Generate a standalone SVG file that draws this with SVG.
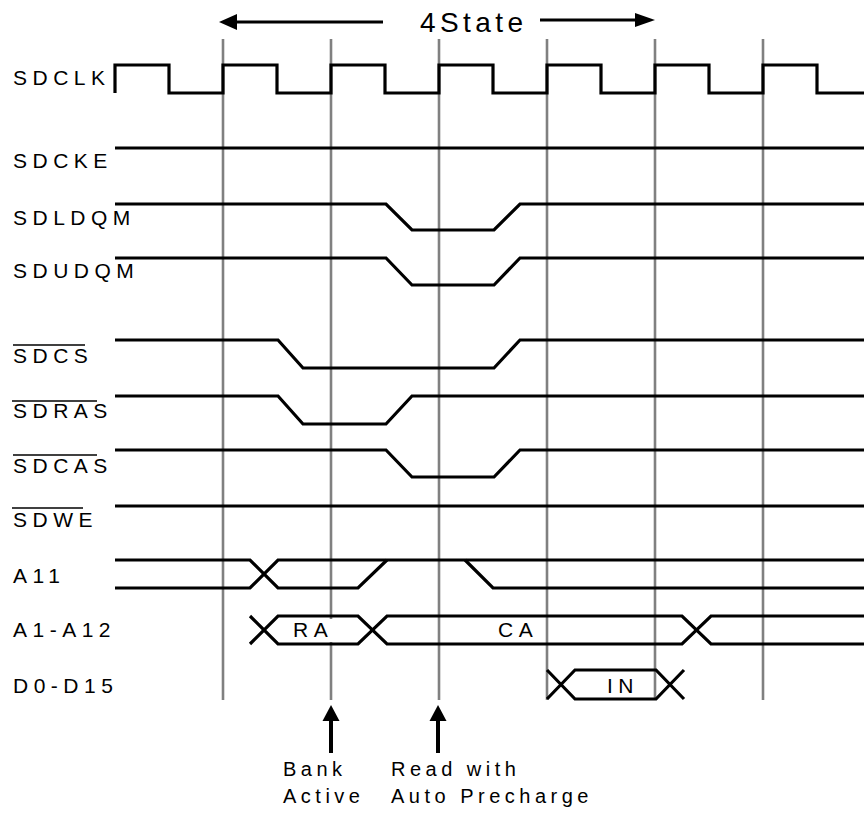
<svg xmlns="http://www.w3.org/2000/svg" width="864" height="814" viewBox="0 0 864 814">
<style>
.grid{stroke:#808080;stroke-width:2.6;fill:none}
.sig{stroke:#000;stroke-width:3.2;fill:none;stroke-linejoin:miter}
.lbl{font-family:"Liberation Sans",Arial,sans-serif;font-size:21px;letter-spacing:5.5px;fill:#000}
.note{font-family:"Liberation Sans",Arial,sans-serif;font-size:20px;letter-spacing:4.5px;fill:#000}
.ob{stroke:#000;stroke-width:1.6}
</style>
<rect width="864" height="814" fill="#fff"/>
<g id="gridlines">
<line class="grid" x1="223" y1="39" x2="223" y2="700"/>
<line class="grid" x1="331" y1="39" x2="331" y2="700"/>
<line class="grid" x1="439" y1="39" x2="439" y2="700"/>
<line class="grid" x1="547" y1="39" x2="547" y2="700"/>
<line class="grid" x1="655" y1="39" x2="655" y2="700"/>
<line class="grid" x1="763" y1="39" x2="763" y2="700"/>
</g>
<g id="span4state">
<line x1="236" y1="22" x2="383" y2="22" stroke="#000" stroke-width="3"/>
<polygon points="219,22 237,14 237,30" fill="#000"/>
<line x1="540" y1="20" x2="636" y2="20" stroke="#000" stroke-width="3"/>
<polygon points="655,20 635,13 635,27" fill="#000"/>
<text x="420" y="32" font-family="Liberation Sans,Arial,sans-serif" font-size="28" letter-spacing="4.4">4State</text>
</g>
<g id="sdclk">
<text class="lbl" x="13" y="85">SDCLK</text>
<path class="sig" d="M115,93 V65 H169 V93 H223 V65 H277 V93 H331 V65 H385 V93 H439 V65 H493 V93 H547 V65 H601 V93 H655 V65 H709 V93 H763 V65 H817 V93 H864"/>
</g>
<g id="sdcke">
<text class="lbl" x="13" y="168">SDCKE</text>
<path class="sig" d="M115,148 H864"/>
</g>
<g id="sdldqm">
<text class="lbl" x="13" y="225">SDLDQM</text>
<path class="sig" d="M115,204 H386 L412,230 H494 L520,204 H864"/>
</g>
<g id="sdudqm">
<text class="lbl" x="13" y="278">SDUDQM</text>
<path class="sig" d="M115,258 H386 L412,285 H494 L520,258 H864"/>
</g>
<g id="sdcs">
<text class="lbl" x="13" y="363">SDCS</text>
<line class="ob" x1="13" y1="345" x2="85" y2="345"/>
<path class="sig" d="M115,340 H278 L303,368 H494 L520,340 H864"/>
</g>
<g id="sdras">
<text class="lbl" x="13" y="418">SDRAS</text>
<line class="ob" x1="12" y1="401" x2="97" y2="401"/>
<path class="sig" d="M115,396 H278 L303,424 H386 L412,396 H864"/>
</g>
<g id="sdcas">
<text class="lbl" x="13" y="473">SDCAS</text>
<line class="ob" x1="13" y1="455" x2="97" y2="455"/>
<path class="sig" d="M115,450 H386 L412,477 H494 L520,450 H864"/>
</g>
<g id="sdwe">
<text class="lbl" x="13" y="527">SDWE</text>
<line class="ob" x1="12" y1="508" x2="83" y2="508"/>
<path class="sig" d="M115,506 H864"/>
</g>
<g id="a11">
<text class="lbl" x="13" y="583">A11</text>
<path class="sig" d="M115,560 H250 L278,588 H358 L387,560"/>
<path class="sig" d="M115,588 H250 L278,560 H864"/>
<path class="sig" d="M465,560 L493,588 H864"/>
</g>
<g id="a1a12">
<text class="lbl" x="13" y="637">A1-A12</text>
<rect x="289" y="619" width="46" height="23" fill="#fff"/>
<path class="sig" d="M250,616 L278,644 H358 L387,616 H682 L711,644 H864"/>
<path class="sig" d="M250,644 L278,616 H358 L387,644 H682 L711,616 H864"/>
<text class="lbl" x="293" y="637">RA</text>
<text class="lbl" x="498" y="637">CA</text>
</g>
<g id="d0d15">
<text class="lbl" x="13" y="693">D0-D15</text>
<path class="sig" d="M547,670 L575,699 H656 L684,670"/>
<path class="sig" d="M547,699 L575,670 H656 L684,699"/>
<text class="lbl" x="607" y="693" letter-spacing="3">IN</text>
</g>
<g id="markers">
<line x1="331" y1="718" x2="331" y2="753" stroke="#000" stroke-width="4"/>
<polygon points="331,705 322.5,721 339.5,721" fill="#000"/>
<line x1="438" y1="718" x2="438" y2="753" stroke="#000" stroke-width="4"/>
<polygon points="438,705 429.5,721 446.5,721" fill="#000"/>
<text class="note" x="283" y="776">Bank</text>
<text class="note" x="283" y="803">Active</text>
<text class="note" x="391" y="776">Read with</text>
<text class="note" x="391" y="803">Auto Precharge</text>
</g>
</svg>
